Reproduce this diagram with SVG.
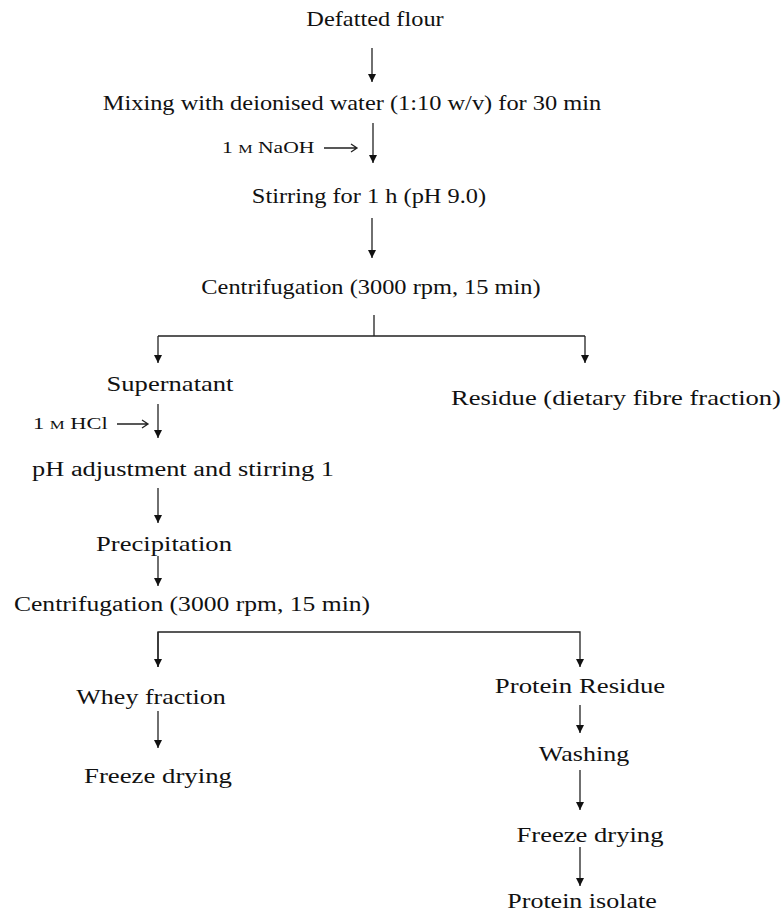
<svg xmlns="http://www.w3.org/2000/svg" width="781" height="913" viewBox="0 0 781 913">
<defs>
<style>
text{font-family:"Liberation Serif","Times New Roman",serif;font-size:20px;fill:#111;text-anchor:middle;}
.s{font-size:16px;text-anchor:start;}
.c{stroke:#222;stroke-width:1.3;fill:none;}
</style>
<marker id="ah" viewBox="0 0 10 10" refX="10" refY="5" markerWidth="8" markerHeight="9" markerUnits="userSpaceOnUse" orient="auto">
<path d="M0,0 L10,5 L0,10 Z" fill="#111"/>
</marker>
</defs>
<rect width="781" height="913" fill="#fff"/>
<g id="n1"><text transform="translate(375,26) scale(1.22,1)">Defatted flour</text></g>
<g id="n2"><text transform="translate(352,110) scale(1.22,1)">Mixing with deionised water (1:10 w/v) for 30 min</text></g>
<g id="l1"><text class="s" transform="translate(222,153) scale(1.35,1)">1 <tspan font-size="12">M</tspan> NaOH</text></g>
<g id="n3"><text transform="translate(369,203) scale(1.22,1)">Stirring for 1 h (pH 9.0)</text></g>
<g id="n4"><text transform="translate(371,294) scale(1.22,1)">Centrifugation (3000 rpm, 15 min)</text></g>
<g id="n5"><text transform="translate(170,391) scale(1.33,1)">Supernatant</text></g>
<g id="n6"><text transform="translate(616,405) scale(1.33,1)">Residue (dietary fibre fraction)</text></g>
<g id="l2"><text class="s" transform="translate(33,429) scale(1.4,1)">1 <tspan font-size="12">M</tspan> HCl</text></g>
<g id="n7"><text transform="translate(183,476) scale(1.32,1)">pH adjustment and stirring 1</text></g>
<g id="n8"><text transform="translate(164,551) scale(1.33,1)">Precipitation</text></g>
<g id="n9"><text transform="translate(192,611) scale(1.28,1)">Centrifugation (3000 rpm, 15 min)</text></g>
<g id="n10"><text transform="translate(151,704) scale(1.3,1)">Whey fraction</text></g>
<g id="n11"><text transform="translate(158,783) scale(1.34,1)">Freeze drying</text></g>
<g id="n12"><text transform="translate(580,693) scale(1.34,1)">Protein Residue</text></g>
<g id="n13"><text transform="translate(584,761) scale(1.3,1)">Washing</text></g>
<g id="n14"><text transform="translate(590,842) scale(1.33,1)">Freeze drying</text></g>
<g id="n15"><text transform="translate(582,908) scale(1.3,1)">Protein isolate</text></g>
<g id="connectors">
<path class="c" d="M324,148 H357 M351,144 L357,148 L351,152"/>
<path class="c" d="M117,424 H148 M142,420 L148,424 L142,428"/>
<path class="c" d="M372,48 V82" marker-end="url(#ah)"/>
<path class="c" d="M373,123 V163" marker-end="url(#ah)"/>
<path class="c" d="M372,218 V258" marker-end="url(#ah)"/>
<path class="c" d="M374,315 V336 M158,336 H585"/>
<path class="c" d="M158,336 V363" marker-end="url(#ah)"/>
<path class="c" d="M585,336 V363" marker-end="url(#ah)"/>
<path class="c" d="M158,404 V438" marker-end="url(#ah)"/>
<path class="c" d="M158,488 V523" marker-end="url(#ah)"/>
<path class="c" d="M158,556 V586" marker-end="url(#ah)"/>
<path class="c" d="M158,667 V632 H580 V667" marker-end="url(#ah)"/>
<path class="c" d="M158,632 V667" marker-end="url(#ah)"/>
<path class="c" d="M158,711 V748" marker-end="url(#ah)"/>
<path class="c" d="M580,705 V733" marker-end="url(#ah)"/>
<path class="c" d="M580,770 V810" marker-end="url(#ah)"/>
<path class="c" d="M580,847 V886" marker-end="url(#ah)"/>
</g>
</svg>
